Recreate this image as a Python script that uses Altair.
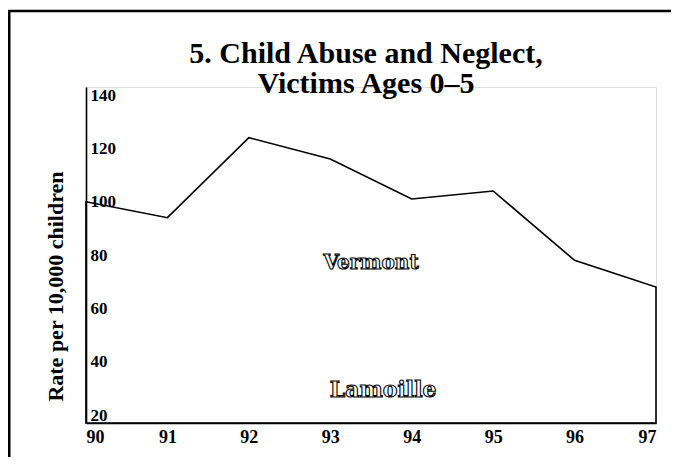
import altair as alt
import pandas as pd

# Data
years = [90, 91, 92, 93, 94, 95, 96, 97]
vermont_rate = [100, 94, 124, 116, 101, 104, 78, 68]

y_ticks = [20, 40, 60, 80, 100, 120, 140]
x_ticks = [90, 91, 92, 93, 94, 95, 96, 97]
y_domain = [17, 143]

label_text = ["Vermont", "Lamoille"]
label_x = [93.5, 93.65]
label_y = [77, 29.5]
label_size = [20, 22]

title_lines = ["5. Child Abuse and Neglect,", "Victims Ages 0\u20135"]

df = pd.DataFrame({"year": years, "rate": vermont_rate})
labels = pd.DataFrame({"text": label_text, "x": label_x, "y": label_y, "size": label_size})

W, H = 570, 336
serif = "Liberation Serif"

xscale = alt.Scale(domain=[90, 97], nice=False, zero=False)
yscale = alt.Scale(domain=y_domain, nice=False, zero=False)

area = alt.Chart(df).mark_area(
    fill="white", stroke="black", strokeWidth=1.6, strokeJoin="miter"
).encode(
    x=alt.X("year:Q", scale=xscale,
            axis=alt.Axis(values=x_ticks, format="d", title=None, grid=False,
                          ticks=False, domainColor="black", domainWidth=1.6,
                          labelFont=serif, labelFontSize=18, labelFontWeight="bold",
                          labelColor="black", labelPadding=5, labelFlush=True,
                          zindex=1)),
    y=alt.Y("rate:Q", scale=yscale,
            axis=alt.Axis(values=y_ticks, title="Rate per 10,000 children", grid=False,
                          ticks=False, tickSize=0, domainColor="black", domainWidth=1.6,
                          labelFont=serif, labelFontSize=17, labelFontWeight="bold",
                          labelColor="black", labelAlign="left", labelBaseline="middle",
                          labelPadding=-4, zindex=1,
                          titleFont=serif, titleFontSize=22, titleFontWeight="bold",
                          titleColor="black", titleAngle=-90, titleX=-31, titleY=199,
                          titleAlign="center", titleBaseline="middle")),
    y2=alt.datum(y_domain[0]),
)

text = alt.Chart(labels).mark_text(
    font="DejaVu Serif", fontWeight="bold", fill="white", stroke="black",
    strokeWidth=1.1, align="center", baseline="middle"
).encode(
    x=alt.X("x:Q", scale=xscale),
    y=alt.Y("y:Q", scale=yscale),
    text="text:N",
    size=alt.Size("size:Q", scale=None, legend=None),
)

title = alt.Chart(pd.DataFrame({"t": [title_lines]})).mark_text(
    font=serif, fontSize=30, fontWeight="bold", color="black",
    align="center", baseline="alphabetic", lineHeight=30
).encode(
    x=alt.value(W / 2 - 5), y=alt.value(-24), text="t"
)

frame_left = alt.Chart(pd.DataFrame({"a": [0]})).mark_rule(
    color="black", strokeWidth=3
).encode(x=alt.value(-77), y=alt.value(-76), y2=alt.value(H + 60))

frame_top = alt.Chart(pd.DataFrame({"a": [0]})).mark_rule(
    color="black", strokeWidth=2.5
).encode(x=alt.value(-78), x2=alt.value(W + 40), y=alt.value(-76))

chart = alt.layer(area, text, title, frame_left, frame_top).properties(
    width=W, height=H,
    padding={"left": 78, "top": 79, "right": 15, "bottom": 34},
    autosize=alt.AutoSizeParams(type="none"),
).configure_view(stroke=None).configure(background="white")

chart.save("out.html", embed_options={"renderer": "svg", "actions": False})
